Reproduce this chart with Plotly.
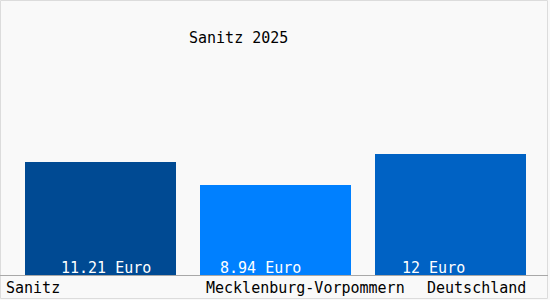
import plotly.graph_objects as go

categories = ["Sanitz", "Mecklenburg-Vorpommern", "Deutschland"]
values = [11.21, 8.94, 12]
value_labels = ["11.21 Euro", "8.94 Euro", "12 Euro"]
bar_colors = ["#004a93", "#0080ff", "#0062c4"]
title_text = "Sanitz 2025"

FONT = "DejaVu Sans Mono"
W, H = 550, 300
ML, MR, MT, MB = 13, 12, 0, 25
PW = W - ML - MR
PH = H - MT - MB
px_per_unit = 10.08
y_max = PH / px_per_unit

fig = go.Figure(
    go.Bar(
        x=categories,
        y=values,
        marker=dict(color=bar_colors, line=dict(width=0)),
        width=0.863,
        hoverinfo="skip",
    )
)

annotations = []
val_shift = [-41.5, -57.5, -50.5]
for c, lab, s in zip(categories, value_labels, val_shift):
    annotations.append(dict(
        x=c, y=0, xref="x", yref="y", text=lab, showarrow=False,
        xanchor="left", yanchor="middle", xshift=s, yshift=7,
        font=dict(family=FONT, size=15, color="#ffffff"),
    ))

cat_anchor = ["left", "left", "right"]
cat_shift = [-96.5, -71.5, 77.5]
for c, a, s in zip(categories, cat_anchor, cat_shift):
    annotations.append(dict(
        x=c, y=0, xref="x", yref="y", text=c, showarrow=False,
        xanchor=a, yanchor="middle", xshift=s, yshift=-13,
        font=dict(family=FONT, size=15, color="#000000"),
    ))

annotations.append(dict(
    x=(238.5 - ML) / PW, y=(PH - 38) / PH, xref="paper", yref="paper",
    text=title_text, showarrow=False, xanchor="center", yanchor="middle",
    font=dict(family=FONT, size=15, color="#000000"),
))

def px_x(p):
    return (p - ML) / PW

def px_y(p):
    return (PH - (p - MT)) / PH

shapes = [
    dict(type="rect", xref="paper", yref="paper",
         x0=px_x(0.5), x1=px_x(547.5), y0=px_y(298.5), y1=px_y(0.5),
         line=dict(color="#dcdcdc", width=1), fillcolor="rgba(0,0,0,0)", layer="below"),
    dict(type="line", xref="paper", yref="paper",
         x0=px_x(0), x1=px_x(548), y0=px_y(275.5), y1=px_y(275.5),
         line=dict(color="#a8a8a8", width=1), layer="above"),
]

fig.update_layout(
    width=W, height=H,
    margin=dict(l=ML, r=MR, t=MT, b=MB, pad=0, autoexpand=False),
    paper_bgcolor="#f9f9f9",
    plot_bgcolor="#f9f9f9",
    showlegend=False,
    bargap=0,
    xaxis=dict(range=[-0.5, 2.5], autorange=False, showticklabels=False,
               showgrid=False, zeroline=False, showline=False, ticks="",
               fixedrange=True),
    yaxis=dict(range=[0, y_max], autorange=False, showticklabels=False,
               showgrid=False, zeroline=False, showline=False, ticks="",
               fixedrange=True),
    annotations=annotations,
    shapes=shapes,
)

fig.write_html("out.html", config={"displayModeBar": False})
